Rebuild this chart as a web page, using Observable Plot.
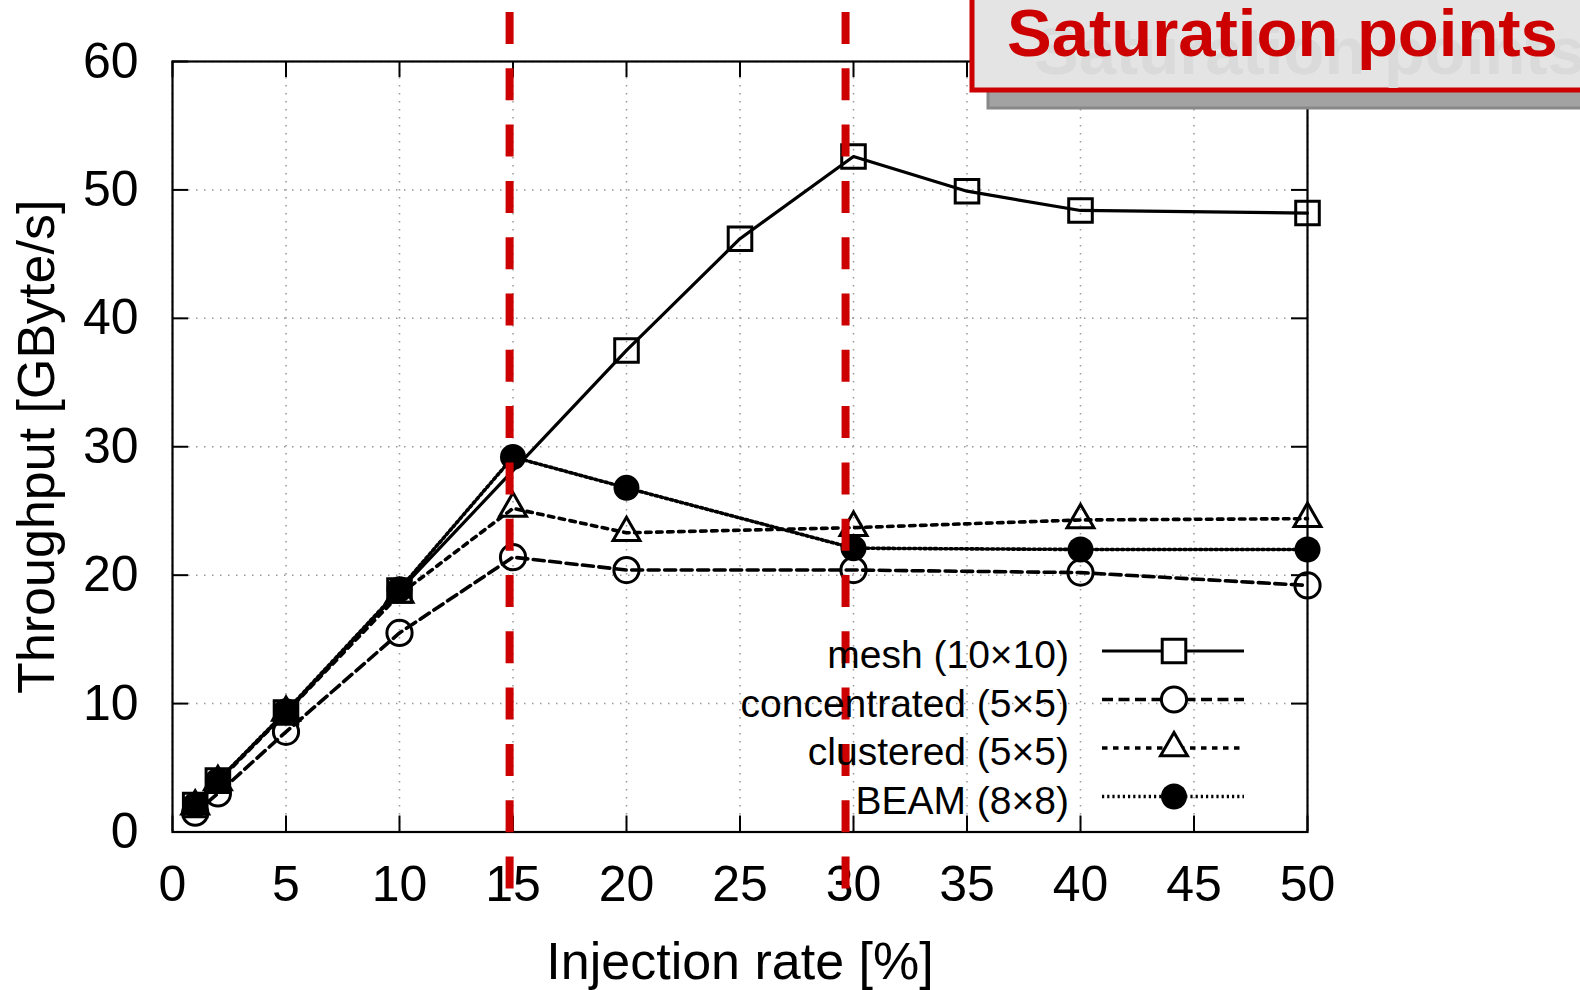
<!DOCTYPE html>
<html><head><meta charset="utf-8">
<script src="https://cdn.jsdelivr.net/npm/d3@7"></script>
<script src="https://cdn.jsdelivr.net/npm/@observablehq/plot@0.6"></script>
<style>html,body{margin:0;padding:0;background:#fff;} #chart svg{display:block;}</style>
</head><body><div id="chart"></div>
<script>
// ---- data ----
const meshRate = [1, 2, 5, 10, 20, 25, 30, 35, 40, 50];
const meshThroughput = [2.1, 4.0, 9.3, 18.8, 37.5, 46.2, 52.6, 49.9, 48.4, 48.2];
const otherRate = [1, 2, 5, 10, 15, 20, 30, 40, 50];
const concentratedThroughput = [1.5, 3.0, 7.8, 15.5, 21.4, 20.4, 20.4, 20.2, 19.2];
const clusteredThroughput = [2.0, 3.9, 9.3, 18.5, 25.2, 23.3, 23.7, 24.3, 24.4];
const beamThroughput = [2.1, 4.0, 9.4, 18.9, 29.2, 26.8, 22.1, 22.0, 22.0];
const seriesNames = ["mesh (10×10)", "concentrated (5×5)", "clustered (5×5)", "BEAM (8×8)"];
const saturationRates = [14.85, 29.65];
const xTicks = [0, 5, 10, 15, 20, 25, 30, 35, 40, 45, 50];
const yTicks = [0, 10, 20, 30, 40, 50, 60];
const xLabel = "Injection rate [%]";
const yLabel = "Throughput [GByte/s]";
const calloutText = "Saturation points";

// ---- build tables ----
const seriesData = [
  meshRate.map((x, i) => ({x, y: meshThroughput[i]})),
  otherRate.map((x, i) => ({x, y: concentratedThroughput[i]})),
  otherRate.map((x, i) => ({x, y: clusteredThroughput[i]})),
  otherRate.map((x, i) => ({x, y: beamThroughput[i]}))
];
const styles = [
  {dash: null, width: 3.2, symbol: "square", r: 13.3, fill: "none", stroke: "black"},
  {dash: "11,5.5", width: 3.6, symbol: "circle", r: 12.6, fill: "none", stroke: "black"},
  {dash: "5.5,5.5", width: 3.6, symbol: "triangle", r: 10, fill: "none", stroke: "black"},
  {dash: "2.2,3", width: 3.6, symbol: "circle", r: 13, fill: "black", stroke: "none"}
];

const W = 1580, H = 990;
const mL = 172, mR = 273, mT = 61, mB = 158.5;
const plotW = W - mL - mR, plotH = H - mT - mB;
const FONT = "'Liberation Sans', Arial, sans-serif";

const marks = [
  Plot.gridX(xTicks, {stroke: "#999", strokeOpacity: 1, strokeWidth: 1.5, strokeDasharray: "1.5,6.5"}),
  Plot.gridY(yTicks, {stroke: "#999", strokeOpacity: 1, strokeWidth: 1.5, strokeDasharray: "1.5,6.5"}),
  Plot.ruleX(xTicks, {x: d => d, insetTop: plotH - 16, strokeWidth: 2}),
  Plot.ruleX(xTicks, {x: d => d, insetBottom: plotH - 16, strokeWidth: 2}),
  Plot.ruleY(yTicks, {y: d => d, insetRight: plotW - 16, strokeWidth: 2}),
  Plot.ruleY(yTicks, {y: d => d, insetLeft: plotW - 16, strokeWidth: 2}),
  Plot.frame({stroke: "black", strokeWidth: 2.2}),
  Plot.axisX(xTicks, {tickSize: 0, tickPadding: 33, fontSize: 50, label: null}),
  Plot.axisY(yTicks, {tickSize: 0, tickPadding: 34, fontSize: 50, label: null}),
  Plot.text([xLabel], {frameAnchor: "bottom", textAnchor: "middle", dy: 146.5, lineAnchor: "bottom", fontSize: 52}),
  Plot.text([yLabel], {frameAnchor: "left", textAnchor: "middle", dx: -119, rotate: -90, lineAnchor: "bottom", fontSize: 52})
];
seriesData.forEach((data, i) => {
  const s = styles[i];
  marks.push(Plot.line(data, {x: "x", y: "y", stroke: "black", strokeWidth: s.width, strokeDasharray: s.dash}));
  marks.push(Plot.dot(data, {x: "x", y: "y", symbol: s.symbol, r: s.r, fill: s.fill, stroke: s.stroke, strokeWidth: 3}));
});
marks.push(Plot.ruleX(saturationRates, {x: d => d, stroke: "#cc0000", strokeWidth: 8, strokeDasharray: "32,24.3", insetTop: -49, insetBottom: -57}));

const chart = Plot.plot({
  width: W, height: H,
  marginLeft: mL, marginRight: mR, marginTop: mT, marginBottom: mB,
  x: {domain: [0, 50]},
  y: {domain: [0, 60]},
  style: {fontFamily: FONT, background: "white", color: "black", overflow: "visible"},
  marks
});
document.getElementById("chart").appendChild(chart);

// ---- legend ----
const svg = d3.select(chart);
const legend = svg.append("g").attr("font-family", FONT);
const legTop = 651, legStep = 48.5, textX = 1069, lineX1 = 1102, lineX2 = 1244, markX = 1174;
const symbolMap = {square: d3.symbolSquare, circle: d3.symbolCircle, triangle: d3.symbolTriangle};
seriesNames.forEach((name, i) => {
  const s = styles[i];
  const y = legTop + i * legStep;
  legend.append("text").attr("x", textX).attr("y", y + 17).attr("text-anchor", "end")
    .attr("font-size", 39).attr("fill", "black").text(name);
  legend.append("line").attr("x1", lineX1).attr("x2", lineX2).attr("y1", y).attr("y2", y)
    .attr("stroke", "black").attr("stroke-width", s.width).attr("stroke-dasharray", s.dash);
  legend.append("path")
    .attr("d", d3.symbol(symbolMap[s.symbol], Math.PI * s.r * s.r)())
    .attr("transform", `translate(${markX},${y})`)
    .attr("fill", s.fill === "none" ? "white" : s.fill).attr("stroke", s.stroke).attr("stroke-width", 3);
});

// ---- callout box ----
const callout = svg.append("g").attr("font-family", FONT);
callout.append("rect").attr("x", 988).attr("y", -20).attr("width", 620).attr("height", 128)
  .attr("fill", "#a2a2a2").attr("stroke", "#888").attr("stroke-width", 3);
callout.append("clipPath").attr("id", "boxclip").append("rect")
  .attr("x", 972).attr("y", -20).attr("width", 640).attr("height", 110);
callout.append("rect").attr("x", 972).attr("y", -20).attr("width", 640).attr("height", 110)
  .attr("fill", "#e4e4e4").attr("stroke", "#cc0000").attr("stroke-width", 5);
callout.append("text").attr("x", 1034).attr("y", 74).attr("clip-path", "url(#boxclip)")
  .attr("text-anchor", "start").attr("font-weight", "bold")
  .attr("font-size", 67).attr("fill", "#dadada").text(calloutText);
callout.append("text").attr("x", 1007).attr("y", 56)
  .attr("text-anchor", "start").attr("font-weight", "bold")
  .attr("font-size", 67).attr("fill", "#cc0000").text(calloutText);
</script>
</body></html>
